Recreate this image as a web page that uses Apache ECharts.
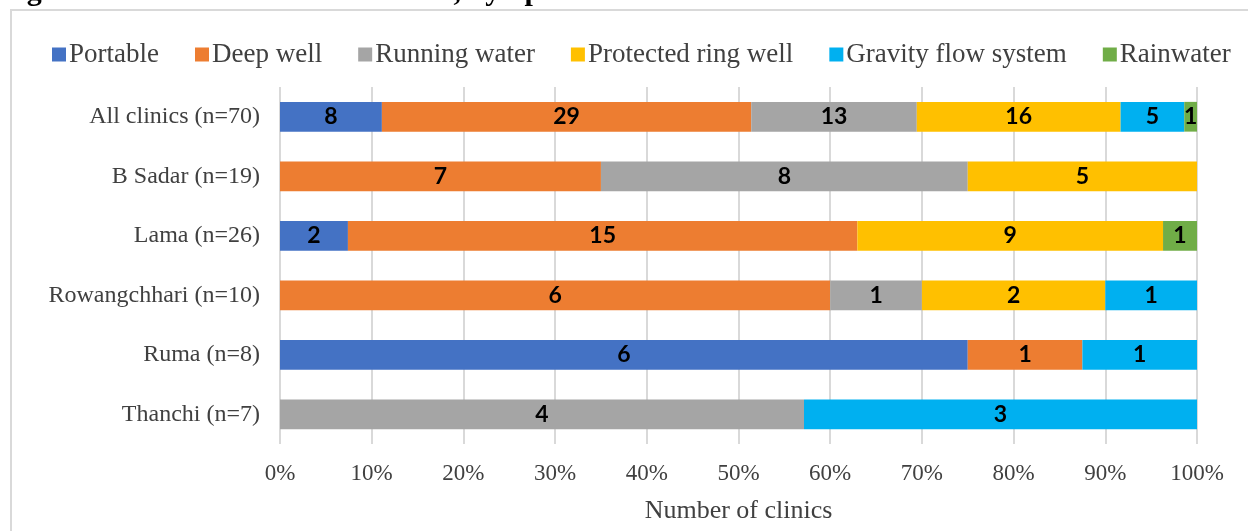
<!DOCTYPE html>
<html>
<head>
<meta charset="utf-8">
<script src="https://cdn.jsdelivr.net/npm/echarts@6/dist/echarts.min.js"></script>
<style>
  html, body { margin: 0; padding: 0; background: #fff; }
  #chart { width: 1248px; height: 531px; }
</style>
</head>
<body>
<div id="chart"></div>
<script>
// Upazilas (top to bottom) and clinic counts per water source
const categories = ['All clinics (n=70)', 'B Sadar (n=19)', 'Lama (n=26)', 'Rowangchhari (n=10)', 'Ruma (n=8)', 'Thanchi (n=7)'];
const seriesNames = ['Portable', 'Deep well', 'Running water', 'Protected ring well', 'Gravity flow system', 'Rainwater'];
const portable      = [8, 0, 2, 0, 6, 0];
const deepWell      = [29, 7, 15, 6, 1, 0];
const runningWater  = [13, 8, 0, 1, 0, 4];
const protectedRing = [16, 5, 9, 2, 0, 0];
const gravityFlow   = [5, 0, 0, 1, 1, 3];
const rainwater     = [1, 0, 1, 0, 0, 0];
const xTicks = [0, 10, 20, 30, 40, 50, 60, 70, 80, 90, 100];

const colors = ['#4472C4', '#ED7D31', '#A5A5A5', '#FFC000', '#00B0F0', '#70AD47'];
const counts = [portable, deepWell, runningWater, protectedRing, gravityFlow, rainwater];

// Row totals, used to turn counts into 100% stacked shares
const totals = categories.map((_, i) => counts.reduce((s, arr) => s + arr[i], 0));

const serif = '"Liberation Serif", "Times New Roman", serif';

const series = seriesNames.map((name, k) => ({
  name,
  type: 'bar',
  stack: 'total',
  barCategoryGap: '50%',
  itemStyle: { color: colors[k] },
  label: {
    show: true,
    position: 'inside',
    color: '#000',
    fontFamily: 'Lato, "Open Sans", sans-serif',
    fontWeight: 'bold',
    fontSize: 23,
    formatter: p => p.data.count > 0 ? String(p.data.count) : ''
  },
  data: counts[k].map((c, i) => ({ value: c === 0 ? null : c / totals[i] * 100, count: c }))
}));

const chart = echarts.init(document.getElementById('chart'), null, { renderer: 'canvas' });
chart.setOption({
  animation: false,
  textStyle: { fontFamily: serif },
  graphic: [
    {
      type: 'rect',
      shape: { x: 11, y: 10, width: 1400, height: 700 },
      style: { fill: 'none', stroke: '#d9d9d9', lineWidth: 2 },
      z: -10
    },
    {
      type: 'text',
      x: 0, y: 7,
      style: {
        text: 'Figure 27: Water facilities in clinics, by upazila',
        font: 'bold 30px "Liberation Serif", serif',
        fill: '#000',
        verticalAlign: 'bottom'
      }
    }
  ],
  legend: {
    top: 36,
    left: 47,
    itemWidth: 14,
    itemHeight: 14,
    itemGap: 36,
    icon: 'rect',
    textStyle: { fontFamily: serif, fontSize: 27, color: '#404040', padding: [0, 0, 0, -2] },
    data: seriesNames
  },
  grid: { left: 280, right: 51, top: 87, bottom: 87, containLabel: false },
  xAxis: {
    type: 'value',
    min: 0,
    max: 100,
    interval: 10,
    name: 'Number of clinics',
    nameLocation: 'middle',
    nameGap: 54,
    nameTextStyle: { fontFamily: serif, fontSize: 26, color: '#404040' },
    axisLine: { show: false },
    axisTick: { show: false },
    axisLabel: { fontFamily: serif, fontSize: 23, color: '#404040', margin: 18, formatter: v => xTicks.includes(v) ? v + '%' : '' },
    splitLine: { show: true, lineStyle: { color: '#d9d9d9', width: 2 } }
  },
  yAxis: {
    type: 'category',
    inverse: true,
    data: categories,
    axisLine: { show: false },
    axisTick: { show: false },
    axisLabel: { fontFamily: serif, fontSize: 24, color: '#404040', margin: 20 }
  },
  series
});
</script>
</body>
</html>
